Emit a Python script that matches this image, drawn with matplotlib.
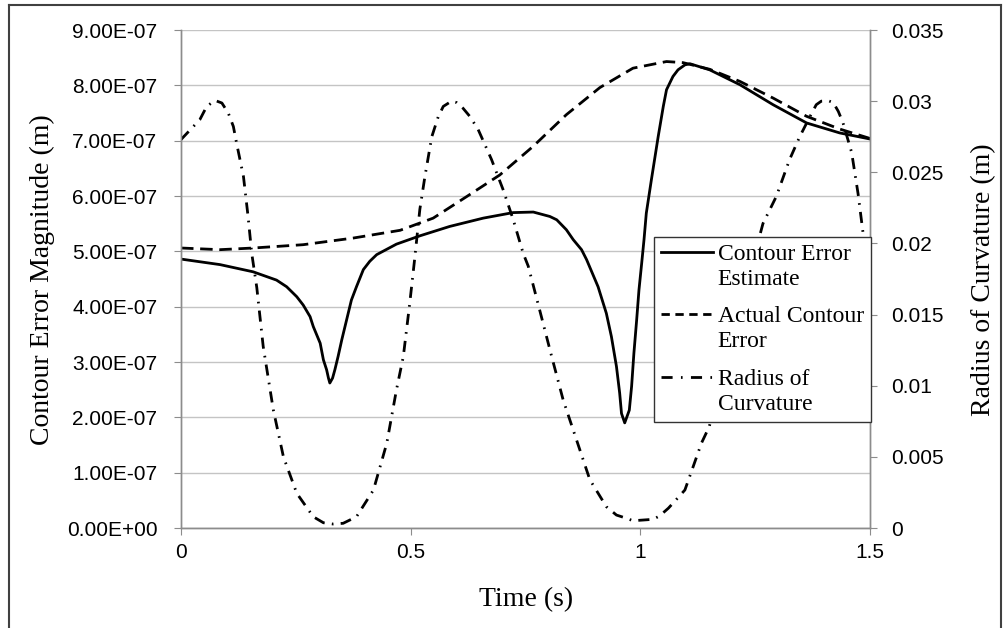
import matplotlib
matplotlib.use('Agg')
import matplotlib.pyplot as plt
from matplotlib.lines import Line2D
from matplotlib.legend_handler import HandlerLine2D

# Contour Error Estimate (time s, error in 1e-7 m)
est_t = [0.0, 0.085, 0.157, 0.208, 0.230, 0.252, 0.266, 0.281, 0.288, 0.303, 0.310, 0.317,
         0.321, 0.324, 0.330, 0.335, 0.342, 0.350, 0.357, 0.371, 0.382, 0.397, 0.411, 0.426,
         0.469, 0.52, 0.585, 0.658, 0.723, 0.767, 0.803, 0.818, 0.839, 0.854, 0.872, 0.883,
         0.908, 0.926, 0.937, 0.948, 0.955, 0.959, 0.966, 0.976, 0.981, 0.986, 0.992, 0.997,
         1.003, 1.008, 1.013, 1.024, 1.039, 1.050, 1.057, 1.071, 1.082, 1.097, 1.108, 1.151,
         1.217, 1.289, 1.362, 1.434, 1.5]
est_e = [4.86, 4.76, 4.63, 4.48, 4.36, 4.18, 4.03, 3.82, 3.64, 3.34, 3.04, 2.86,
         2.71, 2.62, 2.71, 2.86, 3.10, 3.40, 3.64, 4.12, 4.36, 4.67, 4.82, 4.94,
         5.13, 5.28, 5.45, 5.60, 5.70, 5.71, 5.63, 5.57, 5.39, 5.21, 5.03, 4.85,
         4.36, 3.88, 3.46, 2.92, 2.44, 2.07, 1.90, 2.13, 2.56, 3.16, 3.76, 4.30,
         4.79, 5.21, 5.69, 6.29, 7.08, 7.62, 7.92, 8.16, 8.28, 8.37, 8.39, 8.28,
         8.01, 7.65, 7.32, 7.14, 7.03]

# Actual Contour Error
act_t = [0.0, 0.085, 0.157, 0.266, 0.375, 0.477, 0.549, 0.622, 0.694, 0.767, 0.839, 0.912,
         0.984, 1.057, 1.093, 1.151, 1.217, 1.289, 1.362, 1.434, 1.5]
act_e = [5.06, 5.03, 5.06, 5.12, 5.24, 5.38, 5.60, 5.99, 6.38, 6.90, 7.47, 7.96,
         8.31, 8.43, 8.41, 8.29, 8.07, 7.77, 7.44, 7.21, 7.04]

# Radius of Curvature (mm)
roc_t = [0.0, 0.027, 0.041, 0.056, 0.074, 0.089, 0.103, 0.114, 0.121, 0.136, 0.146, 0.154,
         0.165, 0.179, 0.201, 0.223, 0.252, 0.288, 0.310, 0.331, 0.353, 0.382, 0.419, 0.448,
         0.469, 0.484, 0.498, 0.509, 0.520, 0.531, 0.546, 0.560, 0.571, 0.589, 0.600, 0.614,
         0.629, 0.647, 0.676, 0.701, 0.723, 0.745, 0.756, 0.781, 0.807, 0.832, 0.861, 0.890,
         0.926, 0.948, 0.970, 0.984, 1.006, 1.028, 1.042, 1.061, 1.071, 1.097, 1.115, 1.133,
         1.150, 1.21, 1.267, 1.296, 1.325, 1.347, 1.369, 1.383, 1.394, 1.409, 1.420, 1.431,
         1.441, 1.460, 1.474, 1.485, 1.5]
roc_r = [27.3, 28.22, 28.7, 29.63, 30.05, 29.87, 29.16, 28.22, 27.05, 24.7, 21.9, 19.3,
         16.9, 12.75, 8.3, 5.0, 2.44, 0.79, 0.37, 0.28, 0.33, 0.79, 2.67, 5.96,
         9.7, 12.05, 15.8, 19.0, 22.4, 24.7, 27.5, 28.9, 29.63, 30.0, 29.9, 29.5,
         28.92, 28.0, 25.9, 23.8, 21.7, 19.3, 18.4, 15.3, 12.05, 9.0, 6.2, 3.4,
         1.5, 0.91, 0.68, 0.51, 0.56, 0.61, 0.85, 1.39, 1.74, 2.67, 4.31, 5.96,
         7.12, 14.5, 21.4, 23.3, 25.9, 27.5, 28.9, 29.75, 30.0, 30.03, 29.9, 29.28,
         28.5, 26.4, 23.5, 20.7, 18.0]

left_ticks = [0, 1e-7, 2e-7, 3e-7, 4e-7, 5e-7, 6e-7, 7e-7, 8e-7, 9e-7]
right_ticks = [0, 0.005, 0.01, 0.015, 0.02, 0.025, 0.03, 0.035]
right_labels = ['0', '0.005', '0.01', '0.015', '0.02', '0.025', '0.03', '0.035']
x_ticks = [0, 0.5, 1, 1.5]
x_labels = ['0', '0.5', '1', '1.5']


class TopLineHandler(HandlerLine2D):
    # put the legend sample level with the first line of a two-line label
    def create_artists(self, legend, orig_handle, xdescent, ydescent, width, height, fontsize, trans):
        arts = super().create_artists(legend, orig_handle, xdescent, ydescent, width, height, fontsize, trans)
        for a in arts:
            a.set_ydata([y + 0.62 * fontsize for y in a.get_ydata()])
        return arts


W, H = 1008, 628
fig = plt.figure(figsize=(W / 100, H / 100), dpi=100)
ax = fig.add_axes([181 / W, 1 - 528 / H, 689 / W, 498 / H])
ax2 = ax.twinx()

tickfont = {'family': 'Liberation Sans', 'size': 15}
serif = 'Liberation Serif'

ax.plot(est_t, [v * 1e-7 for v in est_e], color='black', lw=2.0, solid_joinstyle='round')
ax.plot(act_t, [v * 1e-7 for v in act_e], color='black', lw=2.0, dashes=(4.5, 2.4))
ax2.plot(roc_t, [v / 1000 for v in roc_r], color='black', lw=2.0, dashes=(4.0, 2.6, 0.6, 2.6))

ax.set_xlim(0, 1.5)
ax.set_ylim(0, 9e-7)
ax2.set_ylim(0, 0.035)

ax.set_yticks(left_ticks)
ax.set_yticklabels(['%.2E' % v for v in left_ticks], fontdict=tickfont)
ax.set_xticks(x_ticks)
ax.set_xticklabels(x_labels, fontdict=tickfont)
ax2.set_yticks(right_ticks)
ax2.set_yticklabels(right_labels, fontdict=tickfont)

gray = '#8c8c8c'
ax.grid(axis='y', color='#c4c4c4', lw=1.0)
ax.set_axisbelow(True)
for a in (ax, ax2):
    a.spines['top'].set_visible(False)
    for s in ('left', 'right', 'bottom'):
        a.spines[s].set_color(gray)
        a.spines[s].set_linewidth(1.0)
ax.tick_params(axis='y', length=5, color=gray, pad=12, labelcolor='black')
ax.tick_params(axis='x', length=5, color=gray, pad=6)
ax2.tick_params(axis='y', length=5, color=gray, pad=10)

fig.text(42 / W, 1 - 280 / H, 'Contour Error Magnitude (m)', rotation=90,
         ha='center', va='center', family=serif, size=20)
fig.text(984 / W, 1 - 280 / H, 'Radius of Curvature (m)', rotation=90,
         ha='center', va='center', family=serif, size=20)
fig.text(526 / W, 1 - 600 / H, 'Time (s)', ha='center', va='center', family=serif, size=20)

handles = [Line2D([], [], color='black', lw=2.0),
           Line2D([], [], color='black', lw=2.0, dashes=(3.0, 2.0)),
           Line2D([], [], color='black', lw=2.0, dashes=(4.0, 3.0, 0.6, 3.0))]
labels = ['Contour Error\nEstimate', 'Actual Contour\nError', 'Radius of\nCurvature']
leg = fig.legend(handles, labels, loc='upper left', bbox_to_anchor=(654 / W, 1 - 237 / H),
                 prop={'family': serif, 'size': 17}, frameon=True, fancybox=False,
                 framealpha=1, edgecolor='#333333', borderpad=0.3, handlelength=2.2,
                 handletextpad=0.2, labelspacing=0.68, borderaxespad=0,
                 handler_map={Line2D: TopLineHandler()})
leg.get_frame().set_linewidth(1.0)
for t in leg.get_texts():
    t.set_linespacing(1.26)

# outer frame
fig.add_artist(Line2D([9 / W, 9 / W], [0, 1 - 5 / H], color='#404040', lw=1.5))
fig.add_artist(Line2D([9 / W, 1001 / W], [1 - 5 / H, 1 - 5 / H], color='#404040', lw=1.5))
fig.add_artist(Line2D([1001 / W, 1001 / W], [0, 1 - 5 / H], color='#404040', lw=1.5))

fig.savefig('out.png', dpi=100)
